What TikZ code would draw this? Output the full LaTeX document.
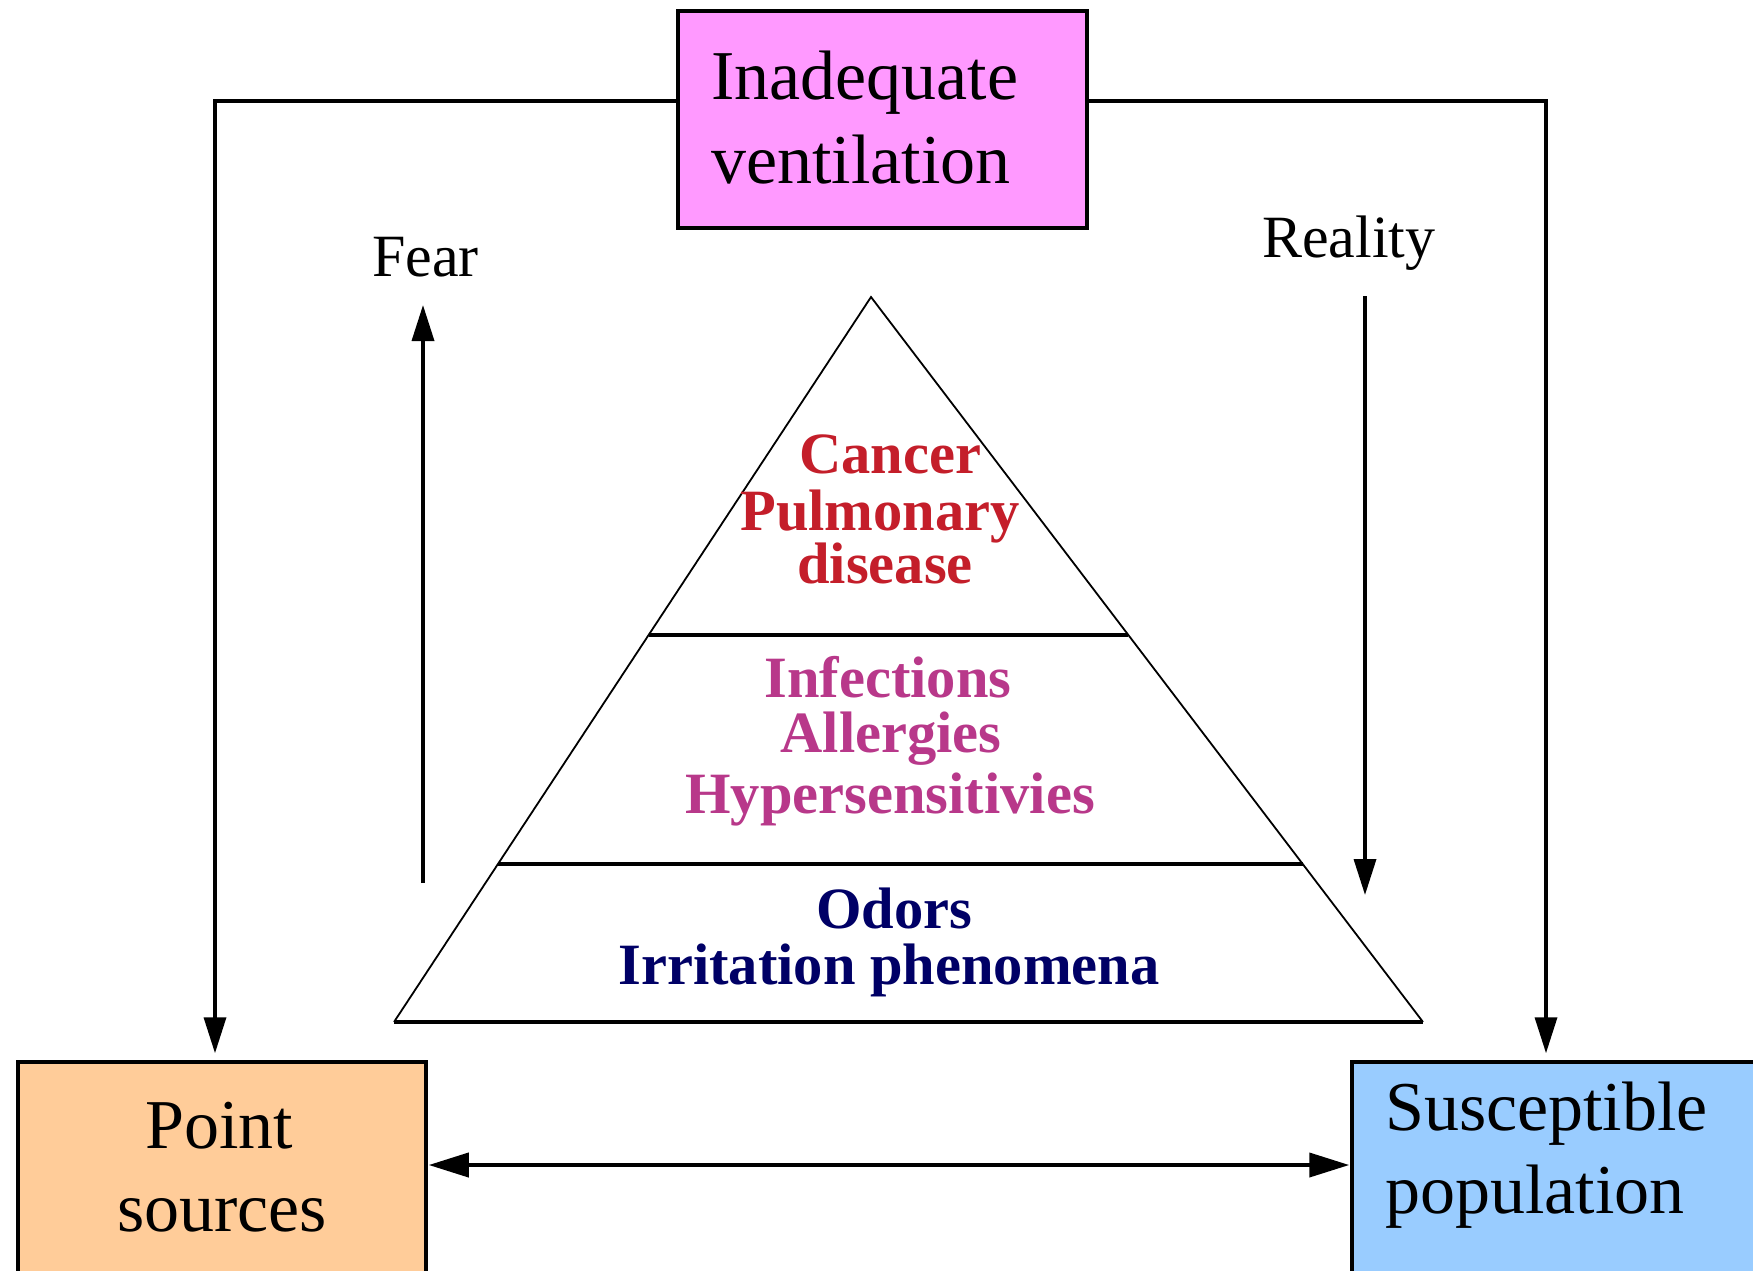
\documentclass[tikz,border=0pt]{standalone}
\usepackage{fontspec}
\setmainfont{Liberation Serif}
\usetikzlibrary{arrows.meta,calc}
\definecolor{boxpink}{HTML}{FF99FF}
\definecolor{boxorange}{HTML}{FFCC99}
\definecolor{boxblue}{HTML}{99CCFF}
\definecolor{txtred}{HTML}{C41E2A}
\definecolor{txtmag}{HTML}{B8388A}
\definecolor{txtnavy}{HTML}{000066}
\tikzset{
  box/.style={draw=black, line width=3.5pt, rectangle, inner sep=0pt},
  boxtxt/.style={inner sep=0pt, anchor=base west, font=\fontsize{70}{70}\selectfont},
  boxtxtc/.style={inner sep=0pt, anchor=base, font=\fontsize{70}{70}\selectfont},
  lbl/.style={inner sep=0pt, anchor=base west, font=\fontsize{60}{60}\selectfont},
  pyr/.style={inner sep=0pt, anchor=base, font=\bfseries\fontsize{58.5}{58.5}\selectfont},
  conn/.style={line width=3.5pt, draw=black},
  tip/.style={-{Triangle[width=22pt,length=36pt]}},
  dtip/.style={{Triangle[width=24pt,length=40pt]}-{Triangle[width=24pt,length=40pt]}},
  side/.style={line width=1.8pt, draw=black},
  layer/.style={line width=3.5pt, draw=black}
}
\begin{document}
\begin{tikzpicture}[x=1pt,y=-1pt]
\useasboundingbox (0,0) rectangle (1753,1270);
\clip (0,0) rectangle (1753,1270);
\fill[white] (0,0) rectangle (1753,1270);

% boxes
\node[box, fill=boxpink, minimum width=409pt, minimum height=217pt] (vent) at (882.5,119.5) {};
\node[box, fill=boxorange, minimum width=408pt, minimum height=260pt] (src) at (222,1192) {};
\node[box, fill=boxblue, minimum width=430pt, minimum height=260pt] (pop) at (1567,1192) {};

% box texts
\node[boxtxt] (vent1) at (711,99) {Inadequate};
\node[boxtxt] (vent2) at (711,183) {ventilation};
\node[boxtxtc] (src1) at (219,1148) {Point};
\node[boxtxtc] (src2) at (222,1231) {sources};
\node[boxtxt] (pop1) at (1385,1130) {Susceptible};
\node[boxtxt] (pop2) at (1385,1213) {population};

% labels
\node[lbl] (fear) at (372,276) {Fear};
\node[lbl] (real) at (1262,257) {Reality};

% loop connectors
\coordinate (tl) at (215,101);
\coordinate (tr) at (1546,101);
\draw[conn, tip, shorten >=7pt] (vent.west |- tl) -- (tl) -- (tl |- src.north);
\draw[conn, tip, shorten >=7pt] (vent.east |- tr) -- (tr) -- (tr |- pop.north);

% fear / reality arrows
\coordinate (fb) at (423,883);
\coordinate (ft) at (423,305);
\draw[conn, tip] (fb) -- (ft);
\coordinate (rt) at (1365,296);
\coordinate (rb) at (1365,895);
\draw[conn, tip] (rt) -- (rb);

% bottom double arrow
\coordinate (mid) at (889,1165);
\draw[line width=4pt, dtip, shorten <=1pt, shorten >=1pt] (src.east |- mid) -- (pop.west |- mid);

% pyramid
\coordinate (apex) at (871,297);
\coordinate (bl) at (394,1022);
\coordinate (br) at (1423,1022);
\draw[side] (bl) -- (apex) -- (br);
\draw[line width=4pt] (bl) -- (br);
\draw[layer] ($(apex)!0.4662!(bl)$) -- ($(apex)!0.4662!(br)$);
\draw[layer] ($(apex)!0.782!(bl)$) -- ($(apex)!0.782!(br)$);

% pyramid texts
\node[pyr, text=txtred] (t1) at (890,473) {Cancer};
\node[pyr, text=txtred] (t2) at (880,530) {Pulmonary};
\node[pyr, text=txtred] (t3) at (885,583) {disease};
\node[pyr, text=txtmag] (t4) at (888,697) {Infections};
\node[pyr, text=txtmag] (t5) at (891,752) {Allergies};
\node[pyr, text=txtmag] (t6) at (890,813) {Hypersensitivies};
\node[pyr, text=txtnavy] (t7) at (894,928) {Odors};
\node[pyr, text=txtnavy] (t8) at (889,984) {Irritation phenomena};
\end{tikzpicture}
\end{document}
